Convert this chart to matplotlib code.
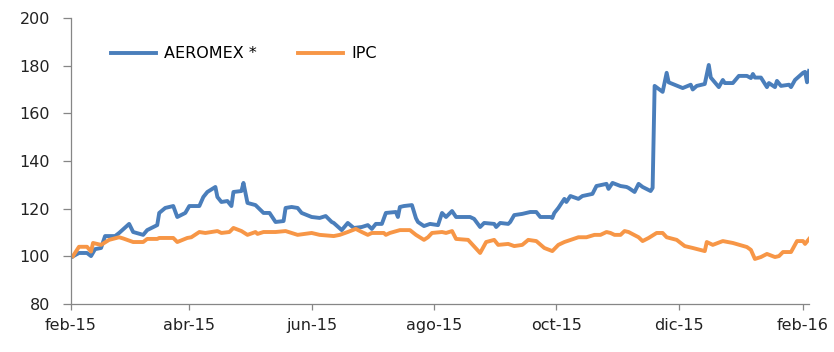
import numpy as np
import pandas as pd
import matplotlib
matplotlib.use("Agg")
import matplotlib.pyplot as plt
import matplotlib.dates as mdates

# AEROMEX * (base 100 = feb-2015)
aero_dates = ["2015-02-02", "2015-02-05", "2015-02-09", "2015-02-11", "2015-02-13", "2015-02-16",
              "2015-02-18", "2015-02-23", "2015-02-25", "2015-03-02", "2015-03-04", "2015-03-09",
              "2015-03-11", "2015-03-16", "2015-03-17", "2015-03-20", "2015-03-24", "2015-03-26",
              "2015-03-30", "2015-04-01", "2015-04-06", "2015-04-08", "2015-04-10", "2015-04-14",
              "2015-04-15", "2015-04-17", "2015-04-20", "2015-04-22", "2015-04-23", "2015-04-27",
              "2015-04-28", "2015-04-30", "2015-05-04", "2015-05-08", "2015-05-11", "2015-05-14",
              "2015-05-18", "2015-05-19", "2015-05-22", "2015-05-25", "2015-05-27", "2015-06-01",
              "2015-06-05", "2015-06-08", "2015-06-11", "2015-06-12", "2015-06-16", "2015-06-19",
              "2015-06-22", "2015-06-26", "2015-06-29", "2015-07-01", "2015-07-03", "2015-07-06",
              "2015-07-08", "2015-07-13", "2015-07-14", "2015-07-15", "2015-07-17", "2015-07-21",
              "2015-07-23", "2015-07-24", "2015-07-27", "2015-07-30", "2015-08-03", "2015-08-05",
              "2015-08-07", "2015-08-10", "2015-08-12", "2015-08-17", "2015-08-19", "2015-08-21",
              "2015-08-24", "2015-08-26", "2015-08-31", "2015-09-01", "2015-09-03", "2015-09-07",
              "2015-09-08", "2015-09-10", "2015-09-14", "2015-09-18", "2015-09-21", "2015-09-23",
              "2015-09-28", "2015-09-29", "2015-09-30", "2015-10-02", "2015-10-05", "2015-10-06",
              "2015-10-08", "2015-10-12", "2015-10-14", "2015-10-19", "2015-10-21", "2015-10-26",
              "2015-10-27", "2015-10-29", "2015-11-02", "2015-11-05", "2015-11-06", "2015-11-09",
              "2015-11-11", "2015-11-13", "2015-11-17", "2015-11-18", "2015-11-19", "2015-11-23",
              "2015-11-25", "2015-11-26", "2015-12-03", "2015-12-07", "2015-12-08", "2015-12-10",
              "2015-12-14", "2015-12-16", "2015-12-17", "2015-12-21", "2015-12-23", "2015-12-24",
              "2015-12-28", "2015-12-31", "2016-01-04", "2016-01-06", "2016-01-07", "2016-01-08",
              "2016-01-11", "2016-01-14", "2016-01-15", "2016-01-18", "2016-01-19", "2016-01-21",
              "2016-01-25", "2016-01-26", "2016-01-28", "2016-02-01", "2016-02-02", "2016-02-03",
              "2016-02-04"]
aero_vals = [100.0, 101.4, 101.4, 100.1, 103.0, 103.5,
             108.5, 108.5, 109.8, 113.6, 110.2, 109.0,
             111.0, 113.1, 118.2, 120.3, 121.1, 116.5,
             118.2, 121.1, 121.1, 124.9, 127.0, 129.1,
             124.9, 122.8, 123.2, 121.1, 127.0, 127.4,
             130.8, 122.4, 121.5, 118.2, 118.2, 114.4,
             114.8, 120.3, 120.7, 120.3, 118.2, 116.5,
             116.1, 116.9, 114.4, 114.0, 111.0, 114.0,
             111.9, 112.3, 113.1, 111.5, 113.6, 113.6,
             118.2, 118.6, 116.5, 120.7, 121.1, 121.5,
             116.0, 114.4, 112.7, 113.6, 113.1, 118.2,
             116.5, 119.0, 116.5, 116.5, 116.5, 115.7,
             112.3, 114.0, 113.6, 112.3, 114.0, 113.6,
             114.4, 117.3, 117.8, 118.6, 118.6, 116.5,
             116.5, 116.1, 118.2, 120.3, 124.1, 122.8,
             125.3, 124.1, 125.3, 126.2, 129.5, 130.4,
             128.3, 130.8, 129.5, 129.1, 128.7, 127.0,
             130.4, 129.1, 127.4, 128.7, 171.5, 169.0,
             177.0, 173.0, 170.6, 172.0, 170.0, 171.5,
             172.3, 180.3, 175.0, 171.0, 174.0, 172.7,
             172.7, 175.7, 175.7, 174.8, 176.5, 175.0,
             175.0, 171.0, 172.7, 171.0, 173.6, 171.5,
             172.0, 171.0, 174.0, 177.0, 177.4, 173.0,
             177.8]

# IPC (base 100 = feb-2015)
ipc_dates = ["2015-02-02", "2015-02-05", "2015-02-09", "2015-02-11", "2015-02-12", "2015-02-16",
             "2015-02-20", "2015-02-25", "2015-02-27", "2015-03-04", "2015-03-09", "2015-03-11",
             "2015-03-16", "2015-03-17", "2015-03-24", "2015-03-26", "2015-03-31", "2015-04-02",
             "2015-04-06", "2015-04-09", "2015-04-15", "2015-04-17", "2015-04-21", "2015-04-23",
             "2015-04-27", "2015-04-30", "2015-05-04", "2015-05-05", "2015-05-08", "2015-05-14",
             "2015-05-19", "2015-05-22", "2015-05-25", "2015-06-01", "2015-06-05", "2015-06-12",
             "2015-06-15", "2015-06-19", "2015-06-23", "2015-06-26", "2015-06-29", "2015-07-01",
             "2015-07-07", "2015-07-08", "2015-07-10", "2015-07-15", "2015-07-20", "2015-07-23",
             "2015-07-27", "2015-07-29", "2015-07-31", "2015-08-05", "2015-08-07", "2015-08-10",
             "2015-08-12", "2015-08-18", "2015-08-24", "2015-08-27", "2015-08-31", "2015-09-02",
             "2015-09-07", "2015-09-10", "2015-09-14", "2015-09-17", "2015-09-21", "2015-09-25",
             "2015-09-29", "2015-10-02", "2015-10-05", "2015-10-12", "2015-10-16", "2015-10-20",
             "2015-10-23", "2015-10-26", "2015-10-28", "2015-10-30", "2015-11-02", "2015-11-04",
             "2015-11-06", "2015-11-11", "2015-11-13", "2015-11-16", "2015-11-20", "2015-11-23",
             "2015-11-25", "2015-11-30", "2015-12-02", "2015-12-04", "2015-12-08", "2015-12-14",
             "2015-12-15", "2015-12-18", "2015-12-23", "2015-12-28", "2016-01-04", "2016-01-06",
             "2016-01-08", "2016-01-11", "2016-01-14", "2016-01-18", "2016-01-20", "2016-01-22",
             "2016-01-26", "2016-01-29", "2016-02-01", "2016-02-02", "2016-02-04"]
ipc_vals = [100.1, 104.0, 104.0, 102.0, 105.6, 104.8,
            106.9, 108.0, 107.5, 106.0, 106.0, 107.3,
            107.3, 107.7, 107.7, 106.0, 107.7, 108.0,
            110.2, 109.8, 110.6, 109.8, 110.2, 111.9,
            110.6, 109.0, 110.2, 109.4, 110.2, 110.2,
            110.6, 109.8, 109.0, 109.8, 109.0, 108.5,
            109.0, 110.2, 111.5, 110.2, 109.0, 109.8,
            109.8, 109.0, 109.8, 111.0, 111.0, 109.0,
            106.9, 108.0, 109.8, 110.2, 109.8, 110.6,
            107.3, 106.9, 101.4, 106.0, 106.9, 104.8,
            105.2, 104.3, 104.8, 106.9, 106.4, 103.5,
            102.2, 104.8, 106.0, 108.0, 108.0, 109.0,
            109.0, 110.2, 109.8, 109.0, 109.0, 110.6,
            110.2, 108.0, 106.4, 107.7, 109.8, 109.8,
            108.0, 106.9, 105.6, 104.3, 103.5, 102.2,
            106.0, 104.8, 106.4, 105.6, 103.9, 102.7,
            98.9, 99.7, 101.0, 99.7, 100.1, 101.8,
            101.8, 106.4, 106.4, 105.2, 107.3]

y_ticks = [80, 100, 120, 140, 160, 180, 200]
x_ticks = ["2015-02-01", "2015-04-01", "2015-06-01", "2015-08-01", "2015-10-01", "2015-12-01", "2016-02-01"]
x_labels = ["feb-15", "abr-15", "jun-15", "ago-15", "oct-15", "dic-15", "feb-16"]

blue = "#4A7EBB"
orange = "#F79646"
gray = "#868686"

fig = plt.figure(figsize=(8.34, 3.52), dpi=100)
ax = fig.add_axes([0.0851, 0.1364, 0.885, 0.8125])

ax.plot(pd.to_datetime(aero_dates), aero_vals, color=blue, lw=2.8, label="AEROMEX *", solid_joinstyle="round")
ax.plot(pd.to_datetime(ipc_dates), ipc_vals, color=orange, lw=2.8, label="IPC", solid_joinstyle="round")

ax.set_ylim(80, 200)
ax.set_xlim(pd.Timestamp("2015-02-01"), pd.Timestamp("2016-02-04"))
ax.set_yticks(y_ticks)
ax.set_xticks(pd.to_datetime(x_ticks))
ax.set_xticklabels(x_labels)

for s in ["top", "right"]:
    ax.spines[s].set_visible(False)
for s in ["left", "bottom"]:
    ax.spines[s].set_color(gray)
    ax.spines[s].set_linewidth(0.9)

ax.tick_params(axis="y", direction="out", length=6, width=0.9, color=gray, pad=9, labelsize=11.5, labelcolor="#222222")
ax.tick_params(axis="x", direction="out", length=4, width=0.9, color=gray, pad=6, labelsize=11.5, labelcolor="#222222")

ax.legend(loc="center left", bbox_to_anchor=(0.035, 0.875), ncol=2, frameon=False,
          fontsize=11.5, handlelength=2.8, handletextpad=0.5, columnspacing=2.6)

plt.savefig("out.png", dpi=100)
